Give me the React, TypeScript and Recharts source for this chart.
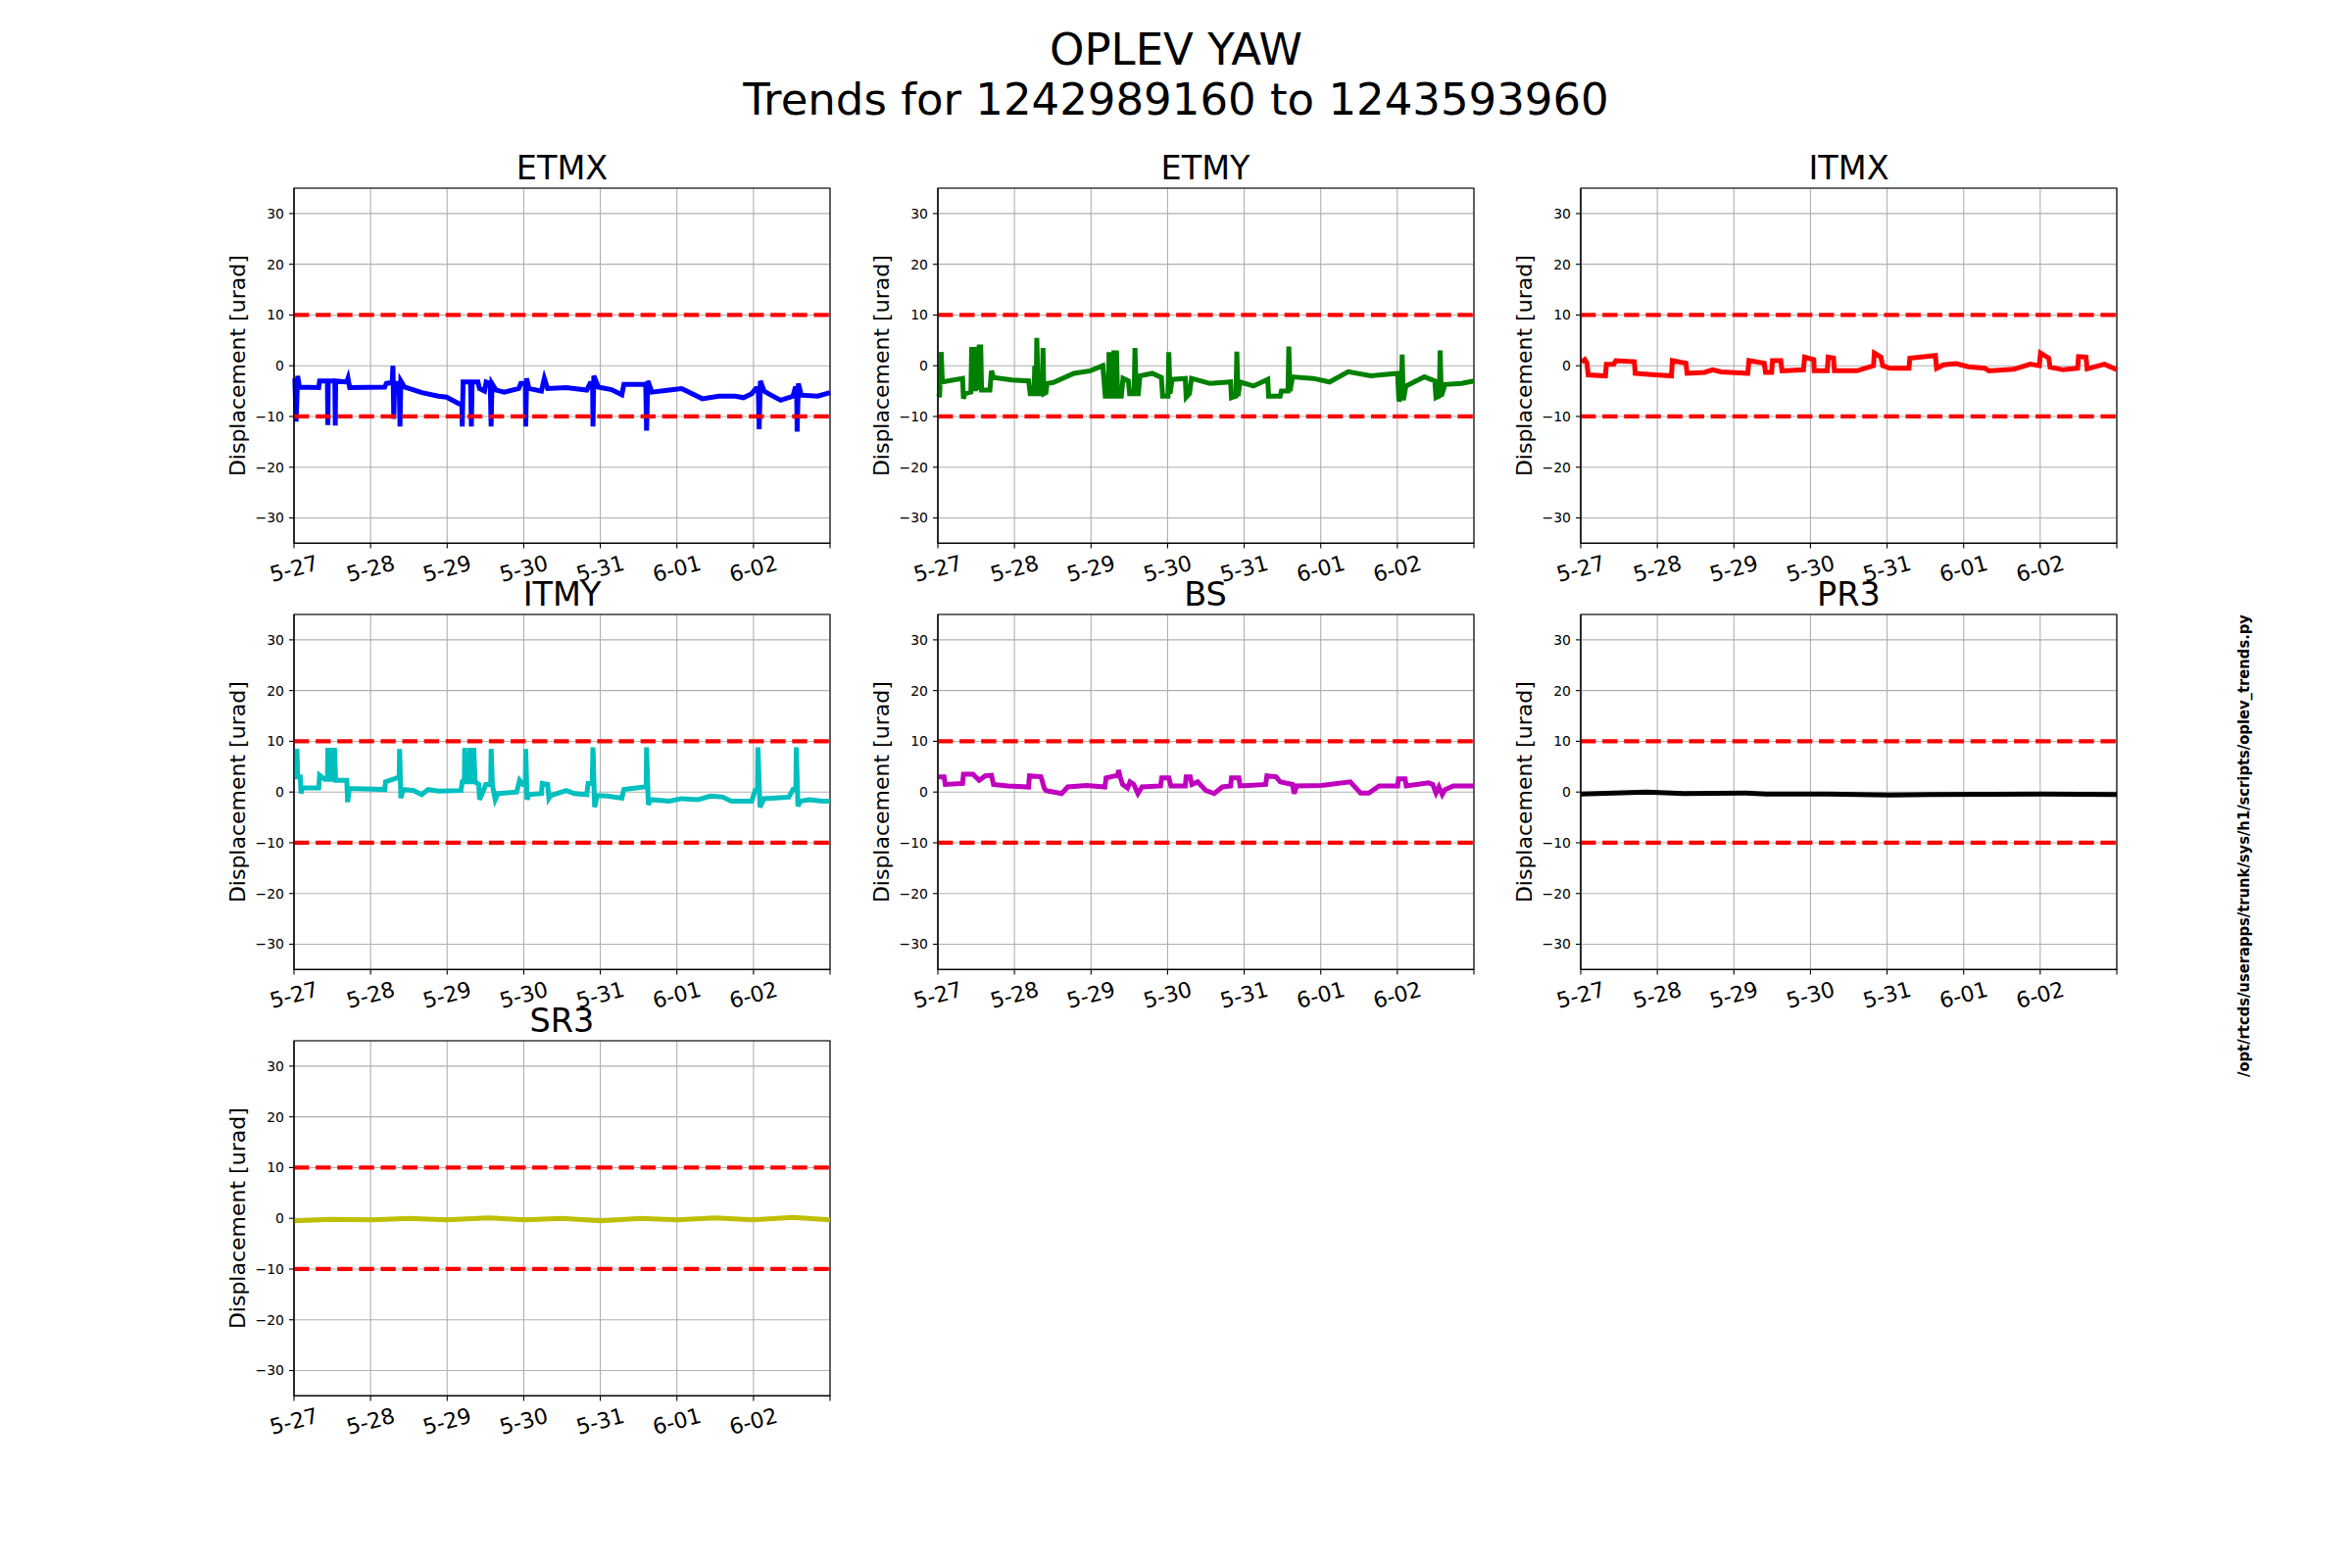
import React from 'react';
import {
  LineChart,
  Line,
  XAxis,
  YAxis,
  CartesianGrid,
  ReferenceLine,
  ReferenceArea,
} from 'recharts';

// time axis is in days from the start of the window (5-27 .. 6-03)
const dayTicks = [0, 1, 2, 3, 4, 5, 6, 7];
const dayLabels = ['5-27', '5-28', '5-29', '5-30', '5-31', '6-01', '6-02', ''];
const yTicks = [-30, -20, -10, 0, 10, 20, 30];
const limits = [10, -10];

// [day, urad]
const etmx = [
  [0.011, -2.5], [0.027, -11], [0.048, -2], [0.07, -4.2], [0.323, -4.3], [0.334, -3],
  [0.436, -3], [0.442, -11.7], [0.447, -3], [0.533, -3], [0.539, -11.8], [0.544, -3],
  [0.689, -3.2], [0.705, -2.5], [0.727, -4.3], [1.185, -4.2], [1.206, -3.5], [1.282, -3.3],
  [1.292, 0], [1.303, -10.5], [1.314, -3.5], [1.373, -3.5], [1.384, -12], [1.395, -3],
  [1.443, -4.2], [1.669, -5.3], [1.885, -6], [1.992, -6.2], [2.154, -7.5], [2.192, -7.5],
  [2.197, -12], [2.208, -3.2], [2.305, -3.2], [2.316, -12], [2.326, -3.2], [2.402, -3.2],
  [2.423, -4.5], [2.488, -5], [2.509, -3.2], [2.563, -3.5], [2.574, -12], [2.585, -3.5],
  [2.639, -4.8], [2.746, -5.2], [2.935, -4.5], [2.962, -3.5], [3.021, -3.5], [3.026, -12],
  [3.037, -2.5], [3.069, -4.5], [3.231, -5], [3.269, -2.5], [3.312, -4.5], [3.554, -4.3],
  [3.823, -4.8], [3.866, -3.5], [3.899, -3.5], [3.904, -12], [3.915, -2], [3.974, -4.2],
  [4.146, -4.7], [4.281, -5.7], [4.308, -3.7], [4.593, -3.7], [4.604, -12.8], [4.62, -3],
  [4.674, -5.2], [4.9, -4.8], [5.062, -4.5], [5.331, -6.5], [5.547, -6], [5.762, -6],
  [5.87, -6.3], [5.977, -5.5], [6.031, -4.5], [6.063, -4.5], [6.074, -12.5], [6.09, -3],
  [6.139, -5], [6.193, -5.5], [6.354, -6.8], [6.516, -6], [6.543, -4.5], [6.564, -4.5],
  [6.57, -13], [6.586, -3.5], [6.624, -5.8], [6.839, -6], [7.0, -5.3],
];

const etmy = [
  [0.011, -5.5], [0.022, -6.2], [0.043, 2.7], [0.059, -3.2], [0.323, -2.5], [0.334, -6.5],
  [0.355, -5.5], [0.431, -5.2], [0.442, 3.7], [0.458, -5], [0.474, 3.7], [0.49, -5],
  [0.506, 3.7], [0.522, -4.8], [0.539, 3.7], [0.56, 3.7], [0.571, -4.8], [0.679, -4.8],
  [0.7, -1], [0.727, -2.3], [0.969, -2.8], [1.185, -3], [1.206, -5.5], [1.255, -5.5],
  [1.265, 0], [1.282, -5.5], [1.292, 5.5], [1.309, -5.5], [1.362, -5.5], [1.373, 3.5],
  [1.384, -5.5], [1.411, -5.3], [1.427, -3.5], [1.508, -3.3], [1.777, -1.5], [1.992, -1],
  [2.154, 0], [2.186, -6], [2.224, -6], [2.235, 2.7], [2.251, -6], [2.289, -6],
  [2.299, 3], [2.316, -6], [2.332, 3], [2.348, -6], [2.396, -6], [2.418, -2.5],
  [2.488, -3], [2.504, -5.5], [2.563, -5.5], [2.574, 3.5], [2.59, -5.5], [2.617, -5.5],
  [2.639, -2], [2.8, -1.5], [2.919, -2.3], [2.935, -6], [3.005, -6], [3.016, 2.7],
  [3.032, -5.5], [3.059, -2.7], [3.231, -2.5], [3.242, -6.2], [3.285, -5.5], [3.312, -2.5],
  [3.554, -3.5], [3.823, -3.2], [3.834, -6.3], [3.893, -6], [3.904, 2.8], [3.92, -6],
  [3.947, -3.2], [4.12, -4], [4.308, -2.7], [4.319, -6], [4.47, -6], [4.486, -5],
  [4.572, -5], [4.583, 3.8], [4.599, -5], [4.631, -2.2], [4.9, -2.5], [5.116, -3.2],
  [5.358, -1.2], [5.654, -2], [6.004, -1.5], [6.02, -7], [6.052, -6], [6.063, 2.2],
  [6.079, -6.8], [6.112, -4], [6.354, -2.2], [6.489, -3], [6.505, -6.3], [6.548, -6],
  [6.559, 3], [6.575, -6], [6.624, -3.7], [6.839, -3.5], [7.0, -3],
];

const itmx = [
  [0.011, 0.7], [0.054, 1.2], [0.081, 0.5], [0.097, -1.8], [0.323, -2], [0.334, 0.3],
  [0.431, 0.3], [0.458, 1], [0.7, 0.8], [0.711, -1.5], [0.969, -1.8], [1.185, -2],
  [1.196, 1], [1.373, 0.5], [1.389, -1.5], [1.616, -1.3], [1.723, -0.8], [1.831, -1.2],
  [2.181, -1.5], [2.197, 1], [2.396, 0.5], [2.413, -1.3], [2.493, -1.3], [2.504, 1],
  [2.612, 1], [2.628, -1], [2.908, -0.8], [2.924, 1.7], [3.043, 1.2], [3.048, -1],
  [3.22, -1], [3.231, 1.7], [3.301, 1.5], [3.312, -1], [3.608, -1], [3.823, 0],
  [3.834, 2.5], [3.92, 1.7], [3.942, 0], [4.039, -0.5], [4.286, -0.5], [4.297, 1.5],
  [4.631, 2], [4.647, -0.5], [4.739, 0.2], [4.9, 0.4], [5.062, -0.2], [5.277, -0.5],
  [5.331, -1], [5.654, -0.7], [5.87, 0.3], [5.988, 0], [6.004, 2.5], [6.112, 1.5],
  [6.128, -0.3], [6.3, -0.8], [6.489, -0.5], [6.5, 1.8], [6.597, 1.7], [6.613, -0.6],
  [6.839, 0.3], [7.0, -0.8],
];

const itmy = [
  [0.011, 3], [0.032, 3], [0.038, 8.5], [0.048, 3], [0.081, 3], [0.092, -0.3],
  [0.108, 0.8], [0.323, 0.8], [0.334, 3.3], [0.404, 2.5], [0.436, 2.5], [0.442, 8.7],
  [0.458, 2.5], [0.479, 2.5], [0.485, 8.7], [0.501, 2.5], [0.522, 2.5], [0.528, 8.7],
  [0.544, 2.3], [0.689, 2.3], [0.7, -2], [0.722, 0.7], [1.185, 0.5], [1.195, 2],
  [1.346, 2.8], [1.373, 2.8], [1.379, 8.5], [1.395, -1.2], [1.427, 0.5], [1.562, 0.3],
  [1.669, -0.5], [1.75, 0.5], [1.885, 0.2], [2.181, 0.3], [2.197, 2], [2.224, 2],
  [2.229, 8.7], [2.245, 2], [2.289, 2], [2.299, 8.7], [2.316, 2], [2.337, 2],
  [2.348, 8.7], [2.364, 2], [2.413, 1.5], [2.423, -1.5], [2.466, 0], [2.504, 1.5],
  [2.569, 1.5], [2.574, 8.5], [2.59, 1.5], [2.628, -1.5], [2.666, -0.3], [2.908, 0],
  [2.946, 2.3], [2.989, 1.5], [3.021, 1.5], [3.026, 8.5], [3.043, -1.5], [3.069, -0.5],
  [3.231, -0.3], [3.242, 1.7], [3.312, 1.5], [3.328, -1.2], [3.349, -0.7], [3.554, 0.3],
  [3.662, -0.3], [3.823, -0.5], [3.84, 1.7], [3.893, 1.7], [3.904, 8.8], [3.926, -3],
  [3.958, -0.7], [4.093, -0.8], [4.281, -1.2], [4.308, 0.5], [4.577, 1], [4.599, 1],
  [4.604, 8.8], [4.626, -2.5], [4.658, -1.5], [4.9, -1.8], [5.062, -1.3], [5.277, -1.5],
  [5.439, -0.8], [5.6, -1], [5.708, -1.8], [5.977, -1.8], [6.02, 0.3], [6.052, 0.3],
  [6.058, 8.8], [6.085, -3], [6.139, -1.3], [6.462, -1], [6.516, 0.5], [6.553, 0.5],
  [6.559, 8.8], [6.58, -2.8], [6.613, -1.8], [6.731, -1.5], [6.893, -1.8], [7.0, -1.8],
];

const bs = [
  [0.011, 3], [0.081, 3], [0.097, 1.5], [0.323, 1.7], [0.334, 3.5], [0.458, 3.5],
  [0.539, 2.3], [0.619, 3.2], [0.7, 3.3], [0.727, 1.5], [0.915, 1.2], [1.185, 1],
  [1.196, 3.2], [1.346, 3], [1.389, 0.8], [1.411, 0.3], [1.616, -0.3], [1.696, 1],
  [1.939, 1.3], [2.181, 1], [2.197, 2.8], [2.316, 3.2], [2.348, 3.2], [2.359, 4.3],
  [2.38, 3], [2.413, 1.5], [2.477, 0.8], [2.509, 2], [2.558, 1.5], [2.612, -0.3],
  [2.666, 1], [2.908, 1.2], [2.924, 2.8], [3.016, 2.8], [3.043, 1.2], [3.231, 1.2],
  [3.242, 3], [3.296, 3], [3.317, 1.5], [3.393, 2], [3.5, 0.3], [3.608, -0.3],
  [3.716, 1], [3.823, 1.2], [3.834, 2.8], [3.931, 2.8], [3.947, 1.2], [4.281, 1.5],
  [4.297, 3.2], [4.416, 3], [4.47, 2], [4.631, 1.5], [4.653, -0.3], [4.685, 1.2],
  [5.008, 1.3], [5.385, 2], [5.52, -0.2], [5.627, -0.2], [5.762, 1.2], [6.004, 1.2],
  [6.015, 2.6], [6.101, 2.6], [6.117, 1.2], [6.408, 1.8], [6.462, 1.5], [6.505, -0.2],
  [6.543, 1], [6.586, -0.5], [6.624, 0.5], [6.731, 1.2], [7.0, 1.2],
];

const pr3 = [
  [0, -0.4], [0.862, 0], [1.346, -0.3], [2.154, -0.2], [2.423, -0.4], [3.231, -0.4],
  [4.039, -0.6], [4.577, -0.5], [6.031, -0.4], [7.0, -0.5],
];

const sr3 = [
  [0, -0.5], [0.485, -0.2], [1.023, -0.3], [1.508, 0], [1.992, -0.3], [2.531, 0.1],
  [3.016, -0.3], [3.5, 0], [4.012, -0.5], [4.523, 0], [5.008, -0.3], [5.493, 0.1],
  [5.977, -0.3], [6.516, 0.2], [7.0, -0.3],
];

const panels = [
  { name: 'ETMX', data: etmx, color: '#0000ff' },
  { name: 'ETMY', data: etmy, color: '#008000' },
  { name: 'ITMX', data: itmx, color: '#ff0000' },
  { name: 'ITMY', data: itmy, color: '#00bfbf' },
  { name: 'BS', data: bs, color: '#bf00bf' },
  { name: 'PR3', data: pr3, color: '#000000' },
  { name: 'SR3', data: sr3, color: '#bfbf00' },
];

// matplotlib default subplot grid on a 2400x1600 figure
const AX_W = 547;
const AX_H = 362.4;
const COL_X = [300, 956.5, 1613];
const ROW_Y = [192, 627, 1062];
const YW = 80;
const MT = 10;
const MR = 10;
const XH = 60;
const FONT = '"DejaVu Sans", sans-serif';

const XTick = (props: any) => {
  const { x, y, payload } = props;
  const label = dayLabels[Math.round(payload.value)] ?? '';
  const cy = y + 21;
  return (
    <text
      x={x}
      y={cy}
      textAnchor="middle"
      dominantBaseline="central"
      fontSize={22}
      fill="#000"
      fontFamily={FONT}
      transform={`rotate(-15 ${x} ${cy})`}
    >
      {label}
    </text>
  );
};

const minus = (v: number) => String(v).replace('-', '\u2212');

const Panel = ({ data, color, left, top }: any) => {
  const rows = data.map(([t, v]: number[]) => ({ t, v }));
  return (
    <div style={{ position: 'absolute', left: left - YW, top: top - MT }}>
      <LineChart
        width={AX_W + YW + MR}
        height={AX_H + MT + XH}
        data={rows}
        margin={{ top: MT, right: MR, bottom: 0, left: 0 }}
      >
        <CartesianGrid stroke="#b0b0b0" strokeWidth={1.1} />
        <XAxis
          type="number"
          dataKey="t"
          domain={[0, 7]}
          ticks={dayTicks}
          interval={0}
          height={XH}
          tickSize={5}
          tickMargin={0}
          tick={<XTick />}
          stroke="#000"
          axisLine={{ stroke: '#000', strokeWidth: 1.1 }}
          tickLine={{ stroke: '#000', strokeWidth: 1.1 }}
        />
        <YAxis
          type="number"
          domain={[-35, 35]}
          ticks={yTicks}
          interval={0}
          width={YW}
          tickSize={5}
          tickMargin={5}
          tickFormatter={minus}
          tick={{ fontSize: 14, fill: '#000', fontFamily: FONT }}
          axisLine={{ stroke: '#000', strokeWidth: 1.1 }}
          tickLine={{ stroke: '#000', strokeWidth: 1.1 }}
        />
        <ReferenceArea
          x1={0}
          x2={7}
          y1={-35}
          y2={35}
          fill="none"
          stroke="#000"
          strokeWidth={1.1}
        />
        <Line
          type="linear"
          dataKey="v"
          stroke={color}
          strokeWidth={5}
          dot={false}
          activeDot={false}
          isAnimationActive={false}
        />
        {limits.map((l) => (
          <ReferenceLine
            key={l}
            y={l}
            stroke="#ff0000"
            strokeWidth={4.2}
            strokeDasharray="15.4 6.7"
          />
        ))}
      </LineChart>
    </div>
  );
};

export default function App() {
  return (
    <div
      style={{
        position: 'absolute',
        left: 0,
        top: 0,
        width: 2400,
        height: 1600,
        background: '#fff',
        fontFamily: FONT,
        overflow: 'hidden',
      }}
    >
      {panels.map((p, i) => (
        <Panel
          key={p.name}
          data={p.data}
          color={p.color}
          left={COL_X[i % 3]}
          top={ROW_Y[Math.floor(i / 3)]}
        />
      ))}
      <svg
        width={2400}
        height={1600}
        style={{ position: 'absolute', left: 0, top: 0, pointerEvents: 'none' }}
        fontFamily={FONT}
      >
        <text x={1200} y={66} textAnchor="middle" fontSize={45} fill="#000">
          OPLEV YAW
        </text>
        <text x={1200} y={117} textAnchor="middle" fontSize={45} fill="#000">
          Trends for 1242989160 to 1243593960
        </text>
        {panels.map((p, i) => {
          const l = COL_X[i % 3];
          const t = ROW_Y[Math.floor(i / 3)];
          const cy = t + AX_H / 2;
          return (
            <g key={p.name}>
              <text x={l + AX_W / 2} y={t - 9} textAnchor="middle" fontSize={33.5} fill="#000">
                {p.name}
              </text>
              <text
                x={l - 57}
                y={cy}
                textAnchor="middle"
                dominantBaseline="central"
                fontSize={22}
                fill="#000"
                transform={`rotate(-90 ${l - 57} ${cy})`}
              >
                Displacement [urad]
              </text>
            </g>
          );
        })}
        <text
          x={2290}
          y={863}
          textAnchor="middle"
          dominantBaseline="central"
          fontSize={15}
          fontWeight="bold"
          fill="#000"
          textLength={472}
          lengthAdjust="spacingAndGlyphs"
          transform="rotate(-90 2290 863)"
        >
          /opt/rtcds/userapps/trunk/sys/h1/scripts/oplev_trends.py
        </text>
      </svg>
    </div>
  );
}
